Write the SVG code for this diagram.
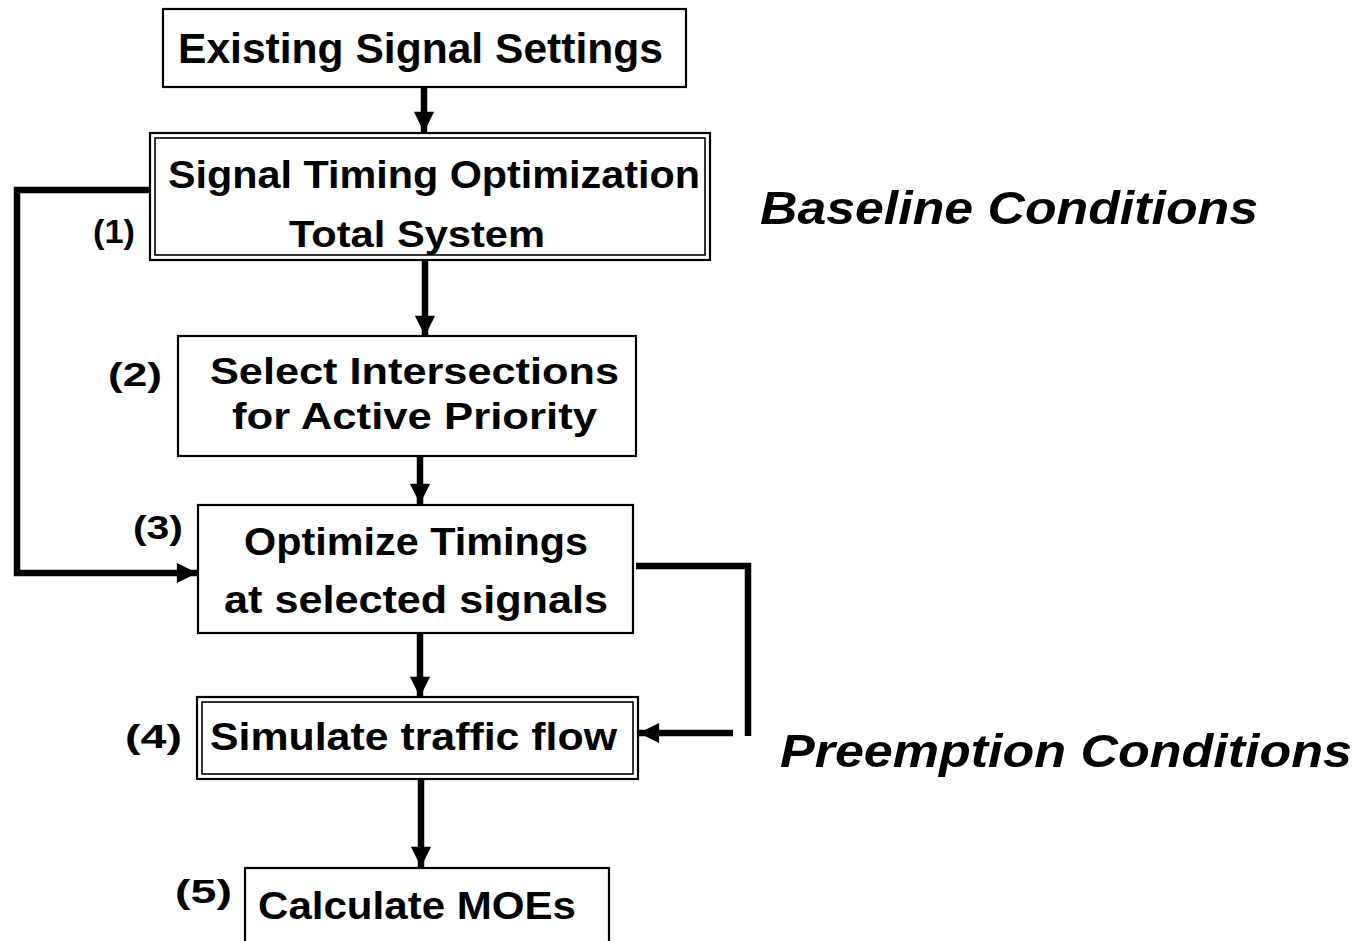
<svg xmlns="http://www.w3.org/2000/svg" width="1363" height="941" viewBox="0 0 1363 941">
<style>
.box{fill:#fff;stroke:#000;stroke-width:2.2}
.inner{fill:none;stroke:#000;stroke-width:1.6}
.t{font-family:"Liberation Sans",Arial,sans-serif;font-weight:bold;fill:#000}
.big{font-family:"Liberation Sans",Arial,sans-serif;font-weight:bold;font-style:italic;fill:#000;font-size:46px}
.lbl{font-family:"Liberation Sans",Arial,sans-serif;font-weight:bold;fill:#000;font-size:34px}
.c{fill:none;stroke:#000;stroke-width:6.5}
</style>
<defs>
<marker id="ah" viewBox="0 0 10 10" refX="10" refY="5" markerWidth="3.3" markerHeight="3.1" markerUnits="strokeWidth" orient="auto">
<path d="M0,0 L10,5 L0,10 Z" fill="#000"/>
</marker>
</defs>
<rect width="1363" height="941" fill="#fff"/>
<g id="connectors">
<line class="c" x1="424" y1="87" x2="424" y2="132" marker-end="url(#ah)"/>
<line class="c" x1="425" y1="260" x2="425" y2="336" marker-end="url(#ah)"/>
<line class="c" x1="420" y1="456" x2="420" y2="504" marker-end="url(#ah)"/>
<line class="c" x1="420" y1="633" x2="420" y2="697" marker-end="url(#ah)"/>
<line class="c" x1="421" y1="779" x2="421" y2="867" marker-end="url(#ah)"/>
<path class="c" d="M150,190 H17 V573 H197" marker-end="url(#ah)"/>
<path class="c" d="M636,566 H748 V736"/>
<line class="c" x1="733" y1="733" x2="639" y2="733" marker-end="url(#ah)"/>
</g>
<g id="n0">
<rect class="box" x="163" y="9" width="523" height="78"/>
<text class="t" x="178" y="63" font-size="42" textLength="485" lengthAdjust="spacingAndGlyphs">Existing Signal Settings</text>
</g>
<g id="n1">
<rect class="box" x="150" y="133" width="560" height="127"/>
<rect class="inner" x="155" y="138" width="550" height="117"/>
<text class="t" x="168" y="188" font-size="38" textLength="532" lengthAdjust="spacingAndGlyphs">Signal Timing Optimization</text>
<text class="t" x="289" y="247" font-size="36" textLength="256" lengthAdjust="spacingAndGlyphs">Total System</text>
<text class="lbl" x="93" y="243" textLength="42" lengthAdjust="spacingAndGlyphs">(1)</text>
</g>
<g id="n2">
<rect class="box" x="178" y="336" width="458" height="120"/>
<text class="t" x="210" y="384" font-size="37" textLength="409" lengthAdjust="spacingAndGlyphs">Select Intersections</text>
<text class="t" x="232" y="429" font-size="37" textLength="365" lengthAdjust="spacingAndGlyphs">for Active Priority</text>
<text class="lbl" x="108" y="386" textLength="54" lengthAdjust="spacingAndGlyphs">(2)</text>
</g>
<g id="n3">
<rect class="box" x="198" y="505" width="435" height="128"/>
<text class="t" x="244" y="555" font-size="38" textLength="344" lengthAdjust="spacingAndGlyphs">Optimize Timings</text>
<text class="t" x="224" y="613" font-size="38" textLength="384" lengthAdjust="spacingAndGlyphs">at selected signals</text>
<text class="lbl" x="133" y="539" textLength="50" lengthAdjust="spacingAndGlyphs">(3)</text>
</g>
<g id="n4">
<rect class="box" x="197" y="697" width="441" height="82"/>
<rect class="inner" x="202" y="702" width="431" height="72"/>
<text class="t" x="210" y="750" font-size="38" textLength="407" lengthAdjust="spacingAndGlyphs">Simulate traffic flow</text>
<text class="lbl" x="125" y="748" textLength="57" lengthAdjust="spacingAndGlyphs">(4)</text>
</g>
<g id="n5">
<rect class="box" x="245" y="868" width="364" height="90"/>
<text class="t" x="258" y="919" font-size="38" textLength="318" lengthAdjust="spacingAndGlyphs">Calculate MOEs</text>
<text class="lbl" x="175" y="903" textLength="57" lengthAdjust="spacingAndGlyphs">(5)</text>
</g>
<g id="labels">
<text class="big" x="760" y="224" textLength="498" lengthAdjust="spacingAndGlyphs">Baseline  Conditions</text>
<text class="big" x="780" y="767" textLength="572" lengthAdjust="spacingAndGlyphs">Preemption  Conditions</text>
</g>
</svg>
